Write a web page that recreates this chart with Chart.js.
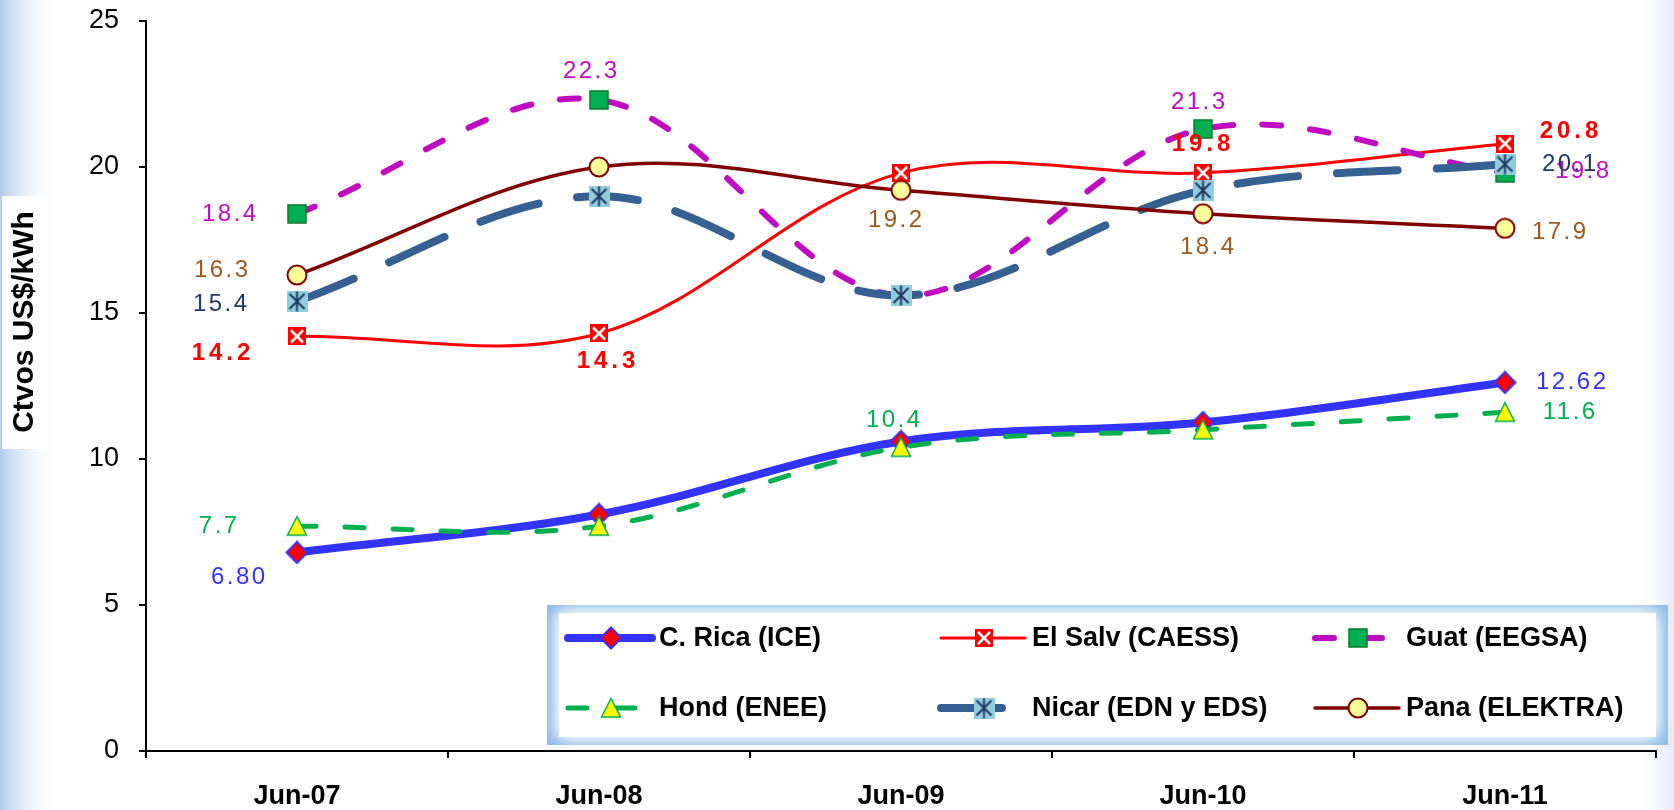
<!DOCTYPE html>
<html>
<head>
<meta charset="utf-8">
<script src="https://cdn.jsdelivr.net/npm/chart.js@4.4.1/dist/chart.umd.min.js"></script>
<style>
  html, body { margin: 0; padding: 0; background: #fff; }
  #wrap { width: 1674px; height: 810px; }
</style>
</head>
<body>
<div id="wrap"><canvas id="chart" width="1674" height="810"></canvas></div>
<script>
const CATEGORIES = ['Jun-07', 'Jun-08', 'Jun-09', 'Jun-10', 'Jun-11']
const CRICA  = [6.80, 8.1, 10.6, 11.25, 12.62]
const ELSALV = [14.2, 14.3, 19.8, 19.8, 20.8]
const GUAT   = [18.4, 22.3, 15.6, 21.3, 19.8]
const HOND   = [7.7, 7.7, 10.4, 11.0, 11.6]
const NICAR  = [15.4, 19.0, 15.6, 19.2, 20.1]
const PANA   = [16.3, 20.0, 19.2, 18.4, 17.9]
const Y_TICKS = [0, 5, 10, 15, 20, 25]
const Y_TITLE = 'Ctvos US$/kWh'

const FONT = "'Liberation Sans', Arial, sans-serif"

// little canvases used as point styles
function marker(size, draw) {
  const c = document.createElement('canvas')
  c.width = size; c.height = size
  draw(c.getContext('2d'), size)
  return c
}
const mkDiamond = marker(24, (g, s) => {
  g.beginPath(); g.moveTo(12, 1.5); g.lineTo(22.5, 12); g.lineTo(12, 22.5); g.lineTo(1.5, 12); g.closePath()
  g.fillStyle = '#ff0000'; g.fill(); g.strokeStyle = '#3333ff'; g.lineWidth = 2; g.stroke()
})
const mkXSquare = marker(18, (g, s) => {
  g.fillStyle = '#ff0000'; g.fillRect(0, 0, s, s)
  g.strokeStyle = '#fff'; g.lineWidth = 2.5
  g.beginPath(); g.moveTo(3, 3); g.lineTo(15, 15); g.moveTo(15, 3); g.lineTo(3, 15); g.stroke()
})
const mkSquare = marker(20, (g, s) => {
  g.fillStyle = '#00b050'; g.fillRect(1, 1, 18, 18)
  g.strokeStyle = '#0a7a2a'; g.lineWidth = 1.5; g.strokeRect(1, 1, 18, 18)
})
const mkTriangle = marker(22, (g, s) => {
  g.beginPath(); g.moveTo(11, 1.5); g.lineTo(20.5, 20); g.lineTo(1.5, 20); g.closePath()
  g.fillStyle = '#ffff00'; g.fill(); g.strokeStyle = '#00b050'; g.lineWidth = 1.5; g.stroke()
})
const mkStar = marker(21, (g, s) => {
  g.fillStyle = '#92cddc'; g.fillRect(0, 0, s, s)
  g.strokeStyle = '#1f3864'; g.lineWidth = 2
  g.beginPath(); g.moveTo(3, 3); g.lineTo(18, 18); g.moveTo(18, 3); g.lineTo(3, 18)
  g.moveTo(10.5, 0.5); g.lineTo(10.5, 20.5); g.stroke()
})
const mkCircle = marker(22, (g, s) => {
  g.beginPath(); g.arc(11, 11, 9.5, 0, Math.PI * 2)
  g.fillStyle = '#ffff99'; g.fill(); g.strokeStyle = '#800000'; g.lineWidth = 2; g.stroke()
})

const normalLbl = { font: `24px ${FONT}`, spacing: 2.5 }
const boldLbl = { font: `bold 24px ${FONT}`, spacing: 4 }

const datasets = [
  { label: 'C. Rica (ICE)', data: CRICA, borderColor: '#3333ff', borderWidth: 8, pointStyle: mkDiamond,
    lbl: { color: '#3333ff', digits: 2, ...normalLbl, at: { 0: [-59, 25], 4: [66, 0] } } },
  { label: 'El Salv (CAESS)', data: ELSALV, borderColor: '#ff0000', borderWidth: 3, pointStyle: mkXSquare,
    lbl: { color: '#ff0000', digits: 1, ...boldLbl, at: { 0: [-76, 17], 1: [7, 28], 3: [-2, -28], 4: [64, -12] } } },
  { label: 'Guat (EEGSA)', data: GUAT, borderColor: '#c00cc0', borderWidth: 6, borderDash: [19, 29], pointStyle: mkSquare,
    lbl: { color: '#c00cc0', digits: 1, ...normalLbl, at: { 0: [-68, 1], 1: [-9, -28], 3: [-5, -27], 4: [77, -1] } } },
  { label: 'Hond (ENEE)', data: HOND, borderColor: '#00b050', borderWidth: 5, borderDash: [19, 29], pointStyle: mkTriangle,
    lbl: { color: '#00b050', digits: 1, ...normalLbl, at: { 0: [-79, 0], 2: [-8, -27], 4: [64, 0] } } },
  { label: 'Nicar (EDN y EDS)', data: NICAR, borderColor: '#376092', borderWidth: 8, borderDash: [61, 39], pointStyle: mkStar,
    lbl: { color: '#1f3864', digits: 1, ...normalLbl, at: { 0: [-77, 3], 4: [64, 0] } } },
  { label: 'Pana (ELEKTRA)', data: PANA, borderColor: '#800000', borderWidth: 3.5, pointStyle: mkCircle,
    lbl: { color: '#9b5a1a', digits: 1, ...normalLbl, at: { 0: [-76, -5], 2: [-6, 30], 3: [4, 34], 4: [54, 4] } } },
]
datasets.forEach((d, i) => {
  Object.assign(d, { order: datasets.length - i, tension: 0.35, fill: false, pointRadius: 10,
    borderCapStyle: 'round', borderJoinStyle: 'round' })
})

const backdrop = {
  id: 'backdrop',
  beforeDraw(chart) {
    const g = chart.ctx
    g.save()
    g.fillStyle = '#fff'; g.fillRect(0, 0, chart.width, chart.height)
    let gr = g.createLinearGradient(0, 0, 58, 0)
    gr.addColorStop(0, '#b2cbed'); gr.addColorStop(1, 'rgba(255,255,255,0)')
    g.fillStyle = gr; g.fillRect(0, 0, 58, chart.height)
    gr = g.createLinearGradient(1636, 0, chart.width, 0)
    gr.addColorStop(0, 'rgba(255,255,255,0)'); gr.addColorStop(1, '#e2eaf7')
    g.fillStyle = gr; g.fillRect(1636, 0, chart.width - 1636, chart.height)
    // axis title box
    g.fillStyle = '#fff'; g.fillRect(2, 196, 44, 253)
    g.translate(25, 322); g.rotate(-Math.PI / 2)
    g.fillStyle = '#000'; g.font = `bold 30px ${FONT}`
    g.textAlign = 'center'; g.textBaseline = 'middle'
    g.fillText(Y_TITLE, 0, 0)
    g.restore()
  }
}

const pointLabels = {
  id: 'pointLabels',
  afterDatasetsDraw(chart) {
    const g = chart.ctx
    chart.data.datasets.forEach((ds, di) => {
      const meta = chart.getDatasetMeta(di)
      Object.entries(ds.lbl.at).forEach(([i, off]) => {
        const pt = meta.data[i]
        g.save()
        g.font = ds.lbl.font
        g.letterSpacing = ds.lbl.spacing + 'px'
        g.fillStyle = ds.lbl.color
        g.textAlign = 'center'; g.textBaseline = 'middle'
        g.fillText(ds.data[i].toFixed(ds.lbl.digits), pt.x + off[0] + ds.lbl.spacing / 2, pt.y + off[1])
        g.restore()
      })
    })
  }
}

const boxLegend = {
  id: 'boxLegend',
  afterDraw(chart) {
    const g = chart.ctx
    const bx = 547, by = 605, bw = 1121, bh = 140
    g.save()
    g.fillStyle = '#8dbbe8'; g.fillRect(bx, by, bw, bh)
    g.beginPath(); g.rect(bx, by, bw, bh); g.clip()
    g.shadowColor = '#fff'; g.shadowBlur = 16
    g.fillStyle = '#fff'
    g.fillRect(bx + 12, by + 8, bw - 24, bh - 16)
    g.fillRect(bx + 12, by + 8, bw - 24, bh - 16)
    g.restore()

    const cols = [568, 941, 1315], rows = [638, 708]
    chart.data.datasets.forEach((ds, i) => {
      const x = cols[i % 3], y = rows[Math.floor(i / 3)]
      g.save()
      g.strokeStyle = ds.borderColor; g.lineWidth = ds.borderWidth; g.lineCap = 'round'
      g.setLineDash(ds.borderDash || [])
      g.beginPath(); g.moveTo(x, y); g.lineTo(x + 84, y); g.stroke()
      g.setLineDash([])
      const m = ds.pointStyle
      g.drawImage(m, x + 43 - m.width / 2, y - m.height / 2)
      g.fillStyle = '#000'; g.font = `bold 27px ${FONT}`
      g.textAlign = 'left'; g.textBaseline = 'middle'
      g.fillText(ds.label, x + 91, y + 1)
      g.restore()
    })
  }
}

new Chart(document.getElementById('chart'), {
  type: 'line',
  data: { labels: CATEGORIES, datasets },
  plugins: [backdrop, pointLabels, boxLegend],
  options: {
    responsive: false,
    animation: false,
    layout: { padding: { top: 21, right: 1, left: 0, bottom: 0 } },
    plugins: { legend: { display: false }, tooltip: { enabled: false } },
    scales: {
      x: {
        offset: true,
        grid: { offset: true, drawOnChartArea: false, tickLength: 7, color: '#000', lineWidth: 2 },
        border: { color: '#000', width: 2 },
        ticks: { font: { family: FONT, size: 27, weight: 'bold' }, color: '#000', padding: 22, maxRotation: 0, autoSkip: false },
        afterFit: s => { s.height = 59 },
      },
      y: {
        min: 0, max: 25,
        afterBuildTicks: s => { s.ticks = Y_TICKS.map(v => ({ value: v })) },
        grid: { drawOnChartArea: false, tickLength: 7, color: '#000', lineWidth: 2 },
        border: { color: '#000', width: 2 },
        ticks: { font: { family: FONT, size: 27 }, color: '#000', padding: 20 },
        afterFit: s => { s.width = 146; s.paddingTop = 0; s.paddingBottom = 0 },
      },
    },
  },
})
</script>
</body>
</html>
